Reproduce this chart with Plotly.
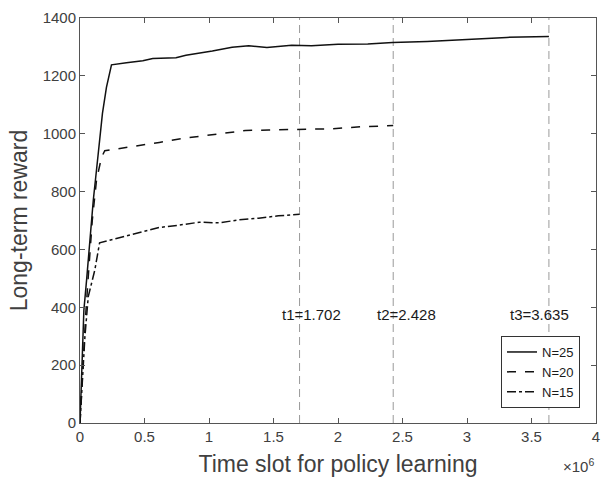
import numpy as np
import plotly.graph_objects as go

# Training curves: time slots (in units of 1e6) and long-term reward
t_n25 = [0.0, 0.015, 0.03, 0.051, 0.077, 0.103, 0.141, 0.174, 0.205, 0.244,
         0.36, 0.487, 0.564, 0.744, 0.821, 0.897, 1.026, 1.179, 1.308, 1.449,
         1.641, 1.795, 2.0, 2.231, 2.423, 2.692, 3.0, 3.308, 3.635]
r_n25 = [0, 200, 390, 494, 644, 770, 930, 1070, 1160, 1238,
         1245, 1252, 1260, 1263, 1271, 1276, 1286, 1299, 1304, 1298,
         1306, 1304, 1309, 1310, 1315, 1319, 1326, 1333, 1336]

t_n20 = [0.0, 0.02, 0.045, 0.064, 0.095, 0.128, 0.167, 0.192,
         0.282, 0.436, 0.615, 0.769, 0.949, 1.103, 1.282, 1.462, 1.705,
         1.949, 2.179, 2.428]
r_n20 = [0, 190, 380, 506, 700, 840, 919, 941,
         947, 959, 970, 982, 992, 1001, 1011, 1013, 1016,
         1017, 1024, 1028]

t_n15 = [0.0, 0.021, 0.038, 0.064, 0.09, 0.115, 0.152,
         0.256, 0.385, 0.513, 0.615, 0.769, 0.923, 1.077, 1.231, 1.385,
         1.538, 1.702]
r_n15 = [0, 149, 298, 437, 490, 529, 623,
         635, 650, 665, 676, 684, 694, 692, 702, 708,
         716, 722]

# Convergence times (x 1e6) and their labels
t_marks = [1.702, 2.428, 3.635]
t_names = ["t1", "t2", "t3"]
label_x = [1.55, 2.285, 3.315]
label_y = 375

x_ticks = [0, 0.5, 1, 1.5, 2, 2.5, 3, 3.5, 4]
x_tick_text = ["0", "0.5", "1", "1.5", "2", "2.5", "3", "3.5", "4"]
y_ticks = [0, 200, 400, 600, 800, 1000, 1200, 1400]

SCALE = 1e6
FONT = "Liberation Sans, Arial"

series = [
    ("N=25", t_n25, r_n25, "solid"),
    ("N=20", t_n20, r_n20, "dash"),
    ("N=15", t_n15, r_n15, "dashdot"),
]

fig = go.Figure()
for name, t, r, dash in series:
    fig.add_trace(go.Scatter(
        x=np.array(t) * SCALE, y=r, mode="lines", name=name,
        line=dict(color="#111111", width=1.5, dash=dash),
    ))

for tm, nm, lx in zip(t_marks, t_names, label_x):
    fig.add_shape(type="line", xref="x", yref="paper",
                  x0=tm * SCALE, x1=tm * SCALE, y0=0, y1=1,
                  line=dict(color="#9a9a9a", width=1, dash="8px,5px"),
                  layer="below")
    fig.add_annotation(x=lx * SCALE, y=label_y, xref="x", yref="y",
                       text=f"{nm}={tm:.3f}", showarrow=False,
                       xanchor="left", yanchor="middle",
                       font=dict(family=FONT, size=15, color="#1a1a1a"))

# Exponent for the x axis
fig.add_annotation(x=1.0, y=-0.104, xref="paper", yref="paper",
                   text="\u00d710<sup>6</sup>", showarrow=False,
                   xanchor="right", yanchor="middle",
                   font=dict(family=FONT, size=15, color="#404040"))

axis_common = dict(
    showline=True, linecolor="#555555", linewidth=1, mirror="ticks",
    ticks="inside", ticklen=5, tickcolor="#555555", showgrid=False,
    zeroline=False,
    tickfont=dict(family=FONT, size=15, color="#404040"),
)

fig.update_layout(
    width=605, height=480,
    margin=dict(l=80, r=5, t=18, b=57),
    paper_bgcolor="white", plot_bgcolor="white",
    xaxis=dict(range=[0, 4 * SCALE],
               tickvals=[v * SCALE for v in x_ticks], ticktext=x_tick_text,
               title=dict(text="Time slot for policy learning", standoff=11,
                          font=dict(family=FONT, size=23, color="#404040")),
               **axis_common),
    yaxis=dict(range=[0, 1400], tickvals=y_ticks,
               title=dict(text="Long-term reward", standoff=8,
                          font=dict(family=FONT, size=23, color="#404040")),
               **axis_common),
    legend=dict(x=0.969, y=0.037, xanchor="right", yanchor="bottom",
                bgcolor="white", bordercolor="#333333", borderwidth=1,
                font=dict(family=FONT, size=13, color="#1a1a1a"),
                tracegroupgap=0, itemwidth=30),
    showlegend=True,
)

fig.write_html("out.html")
